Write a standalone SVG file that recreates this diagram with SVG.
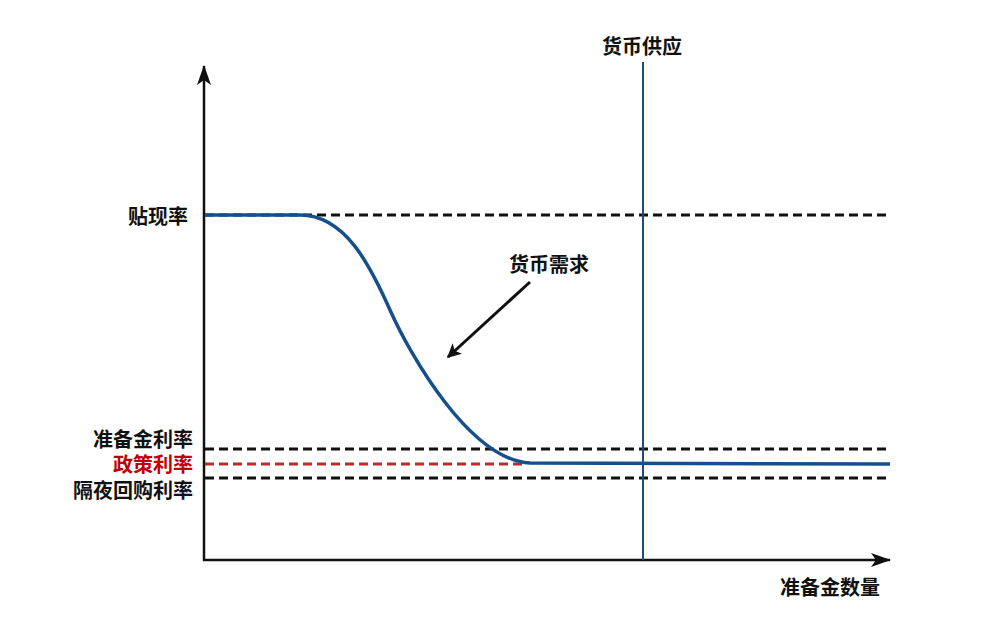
<svg xmlns="http://www.w3.org/2000/svg" width="994" height="642" viewBox="0 0 994 642">
<style>
.t{font-family:"Noto Sans CJK SC","Liberation Sans",sans-serif;font-size:20px;font-weight:bold;fill:#111}
.dash{stroke:#111;stroke-width:3;stroke-dasharray:9,5;fill:none}
</style>
<defs>
<marker id="ah" markerWidth="14" markerHeight="14" viewBox="0 0 10 10" refX="9" refY="5" orient="auto" markerUnits="userSpaceOnUse">
<path d="M0,0 L10,5 L0,10 L2.5,5 Z" fill="#111"/>
</marker>
<marker id="axh" viewBox="0 0 20 14" refX="19" refY="7" markerWidth="20" markerHeight="14" orient="auto" markerUnits="userSpaceOnUse">
<path d="M0,0 L20,7 L0,14 L5,7 Z" fill="#111"/>
</marker>
</defs>
<rect width="994" height="642" fill="#fff"/>
<g id="connectors">
<line x1="204" y1="561" x2="204" y2="66" stroke="#111" stroke-width="2.5" marker-end="url(#axh)"/>
<line x1="203" y1="560" x2="890" y2="560" stroke="#111" stroke-width="2.5" marker-end="url(#axh)"/>
<line x1="205" y1="215" x2="890" y2="215" class="dash"/>
<line x1="205" y1="449" x2="890" y2="449" class="dash"/>
<line x1="205" y1="478" x2="890" y2="478" class="dash"/>
<line x1="205" y1="464" x2="527" y2="464" class="dash" style="stroke:#c0282d"/>
<line x1="643" y1="62" x2="643" y2="560" stroke="#1f4e79" stroke-width="2"/>
<path d="M205,215 L300,215 C345,215 370,265 390,310 S470,460 530,463 L890,464" fill="none" stroke="#154f8c" stroke-width="3.5"/>
<line x1="530" y1="282" x2="448" y2="357" stroke="#111" stroke-width="3" marker-end="url(#ah)"/>
</g>
<g id="label-discount"><text class="t" x="188" y="224" text-anchor="end">贴现率</text></g>
<g id="label-reserve"><text class="t" x="193" y="447" text-anchor="end">准备金利率</text></g>
<g id="label-policy"><text class="t" x="193" y="472" text-anchor="end" style="fill:#c00000">政策利率</text></g>
<g id="label-repo"><text class="t" x="193" y="498" text-anchor="end">隔夜回购利率</text></g>
<g id="label-supply"><text class="t" x="642" y="54" text-anchor="middle">货币供应</text></g>
<g id="label-demand"><text class="t" x="549" y="272" text-anchor="middle">货币需求</text></g>
<g id="label-xaxis"><text class="t" x="880" y="595" text-anchor="end">准备金数量</text></g>
</svg>
